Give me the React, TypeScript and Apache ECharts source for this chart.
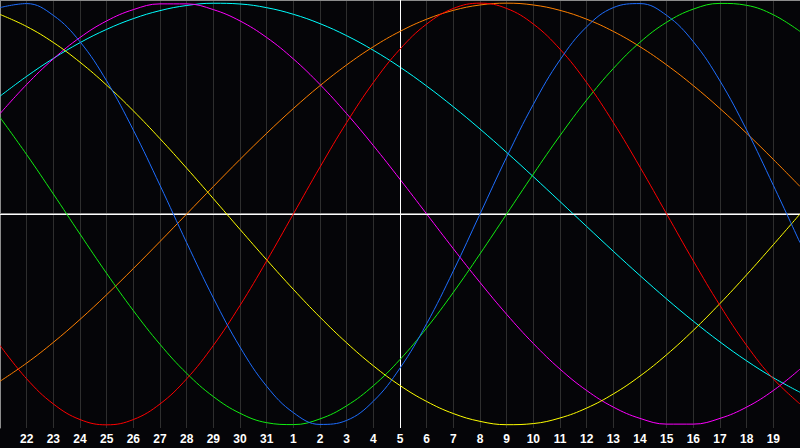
import React, { useEffect, useRef } from "react";
import * as echarts from "echarts";

const days = ["21","22","23","24","25","26","27","28","29","30","31","1","2","3","4","5","6","7","8","9","10","11","12","13","14","15","16","17","18","19","20"];
const todayLabel = "5";

const physical = [0.979,0.998,0.942,0.817,0.631,0.398,0.136,-0.136,-0.398,-0.631,-0.817,-0.942,-0.998,-0.979,-0.888,-0.731,-0.520,-0.270,0,0.270,0.520,0.731,0.888,0.979,0.998,0.942,0.817,0.631,0.398,0.136,-0.136];
const emotional = [-0.6235,-0.7818,-0.901,-0.9749,-1,-0.9749,-0.901,-0.7818,-0.6235,-0.4339,-0.2225,0,0.2225,0.4339,0.6235,0.7818,0.901,0.9749,1,0.9749,0.901,0.7818,0.6235,0.4339,0.2225,0,-0.2225,-0.4339,-0.6235,-0.7818,-0.901];
const intellectual = [0.4582,0.2817,0.0951,-0.0951,-0.2817,-0.4582,-0.6182,-0.7557,-0.866,-0.945,-0.9898,-0.9989,-0.9718,-0.9096,-0.8146,-0.6901,-0.5406,-0.3717,-0.1893,0,0.1893,0.3717,0.5406,0.6901,0.8146,0.9096,0.9718,0.9989,0.9898,0.945,0.866];
const aesthetic = [0.9465,0.8893,0.8135,0.7199,0.6111,0.4894,0.3572,0.2174,0.073,-0.073,-0.2174,-0.3572,-0.4894,-0.6111,-0.7199,-0.8135,-0.8893,-0.9465,-0.9834,-0.9993,-0.994,-0.9675,-0.9204,-0.8535,-0.7686,-0.6673,-0.5518,-0.4244,-0.2881,-0.1456,0];
const awareness = [-0.7934,-0.7071,-0.6088,-0.5,-0.3827,-0.2588,-0.1305,0,0.1305,0.2588,0.3827,0.5,0.6088,0.7071,0.7934,0.866,0.9239,0.9659,0.9914,1,0.9914,0.9659,0.9239,0.866,0.7934,0.7071,0.6088,0.5,0.3827,0.2588,0.1305];
const intuitive = [0.4759,0.6142,0.7357,0.8372,0.9158,0.9694,0.9966,0.9966,0.9694,0.9158,0.8372,0.7357,0.6142,0.4759,0.3247,0.1646,0,-0.1646,-0.3247,-0.4759,-0.6142,-0.7357,-0.8372,-0.9158,-0.9694,-0.9966,-0.9966,-0.9694,-0.9158,-0.8372,-0.7357];
const spiritual = [0.5587,0.6529,0.7378,0.8126,0.8758,0.9267,0.9646,0.989,0.9996,0.9961,0.9786,0.9473,0.9028,0.8456,0.7765,0.6966,0.6068,0.5085,0.4031,0.292,0.1769,0.0592,-0.0592,-0.1769,-0.292,-0.4031,-0.5085,-0.6068,-0.6966,-0.7765,-0.8456];

const seriesDefs = [
  { name: "Spiritual", data: spiritual, color: "#00ffff" },
  { name: "Intuitive", data: intuitive, color: "#ff00ff" },
  { name: "Awareness", data: awareness, color: "#ff8000" },
  { name: "Aesthetic", data: aesthetic, color: "#ffff00" },
  { name: "Intellectual", data: intellectual, color: "#11ee11" },
  { name: "Emotional", data: emotional, color: "#ff0000" },
  { name: "Physical", data: physical, color: "#1e6eff" },
];

export default function App() {
  const ref = useRef<HTMLDivElement>(null);
  useEffect(() => {
    document.body.style.margin = "0";
    document.body.style.background = "#050508";
    const chart = echarts.init(ref.current!, undefined, { renderer: "svg" });
    const series: any[] = seriesDefs.map((s, idx) => ({
      name: s.name,
      type: "line",
      data: s.data,
      smooth: 0.4,
      symbol: "none",
      silent: true,
      lineStyle: { color: s.color, width: 1 },
      itemStyle: { color: s.color },
      z: 3 + idx,
    }));
    series.push({
      name: "ref",
      type: "line",
      data: [],
      silent: true,
      z: 2,
      markLine: {
        silent: true,
        symbol: ["none", "none"],
        label: { show: false },
        lineStyle: { color: "#ffffff", width: 1, type: "solid" },
        data: [{ xAxis: todayLabel }, { yAxis: 0 }],
      },
    });
    chart.setOption({
      animation: false,
      backgroundColor: "#050508",
      grid: { left: 0, right: 0, top: 0, bottom: 20, containLabel: false },
      xAxis: [
        {
          type: "category",
          data: days,
          boundaryGap: false,
          position: "bottom",
          axisLine: { show: true, lineStyle: { color: "#8c8c8c", width: 2 } },
          axisTick: { show: false },
          axisLabel: {
            interval: (i: number) => i !== 0 && i !== days.length - 1,
            color: "#ffffff",
            fontWeight: "bold",
            fontSize: 12,
            fontFamily: "Liberation Sans",
            margin: 5,
          },
          splitLine: { show: true, interval: 0, lineStyle: { color: "#2e2e2e", width: 1 } },
        },
        {
          type: "category",
          data: days,
          boundaryGap: false,
          position: "top",
          axisLine: { show: true, lineStyle: { color: "#8c8c8c", width: 1 } },
          axisTick: { show: false },
          axisLabel: { show: false },
          splitLine: { show: false },
        },
      ],
      yAxis: {
        type: "value",
        min: -1.015,
        max: 1.015,
        axisLine: { show: true, lineStyle: { color: "#8c8c8c", width: 1 } },
        axisTick: { show: false },
        axisLabel: { show: false },
        splitLine: { show: false },
      },
      series,
    });
    return () => chart.dispose();
  }, []);
  return <div ref={ref} style={{ width: 800, height: 448, background: "#050508" }} />;
}
